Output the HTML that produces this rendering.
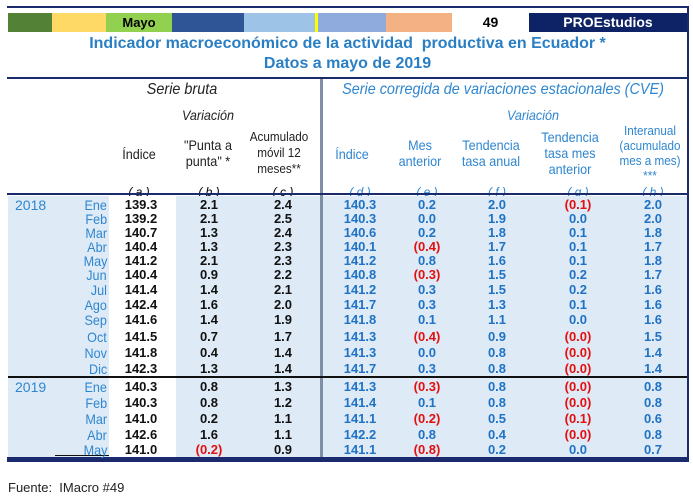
<!DOCTYPE html>
<html><head><meta charset="utf-8"><style>
body{margin:0;width:693px;height:502px;background:#fff;position:relative;overflow:hidden;font-family:"Liberation Sans",Arial,sans-serif}
.a{position:absolute}
.r{position:absolute;left:0;width:693px;height:14px;font-size:13px;line-height:14px;font-weight:bold}
.c{position:absolute;width:70px;margin-left:-35px;text-align:center}
.k{color:#111}.b{color:#1f72c4}.n{color:#e31010}
.m{position:absolute;right:586px;font-weight:normal;color:#2e86d0;font-size:14px;transform:scaleX(0.9);transform-origin:right}
.y{position:absolute;left:15px;font-weight:normal;color:#2e86d0;font-size:14px}
.h{position:absolute;text-align:center;font-size:14px;line-height:16px;color:#222;transform:translateX(-50%) scaleX(0.9);white-space:nowrap}
.hb{color:#2e86d0}
.l{position:absolute;font-style:italic;font-size:12px;transform:translateX(-50%)}
</style></head><body>
<div class="a" style="left:7px;top:6px;width:681px;height:2px;background:#1a2a6c"></div>
<div class="a" style="left:687px;top:6px;width:2px;height:456px;background:#1a2a6c"></div>
<div class="a" style="left:8px;top:13px;width:44px;height:19px;background:#538135"></div>
<div class="a" style="left:52px;top:13px;width:54px;height:19px;background:#ffd966"></div>
<div class="a" style="left:106px;top:13px;width:66px;height:19px;background:#92d050;font-weight:bold;font-size:13px;line-height:19px;text-align:center">Mayo</div>
<div class="a" style="left:172px;top:13px;width:72px;height:19px;background:#2f5597"></div>
<div class="a" style="left:244px;top:13px;width:71px;height:19px;background:#9dc3e6"></div>
<div class="a" style="left:315px;top:13px;width:3px;height:19px;background:#ffff00"></div>
<div class="a" style="left:318px;top:13px;width:68px;height:19px;background:#8faadc"></div>
<div class="a" style="left:386px;top:13px;width:66px;height:19px;background:#f4b183"></div>
<div class="a" style="left:452px;top:13px;width:77px;height:19px;font-weight:bold;font-size:14px;line-height:19px;text-align:center">49</div>
<div class="a" style="left:529px;top:13px;width:158px;height:19px;background:#0d2366;color:#fff;font-weight:bold;font-size:14px;line-height:19px;text-align:center">PROEstudios</div>
<div class="a" style="left:7px;width:681px;top:34px;text-align:center;color:#2a7fc4;font-weight:bold;font-size:16px;line-height:20px">Indicador macroeconómico de la actividad&nbsp; productiva en Ecuador *<br>Datos a mayo de 2019</div>
<div class="a" style="left:7px;top:77px;width:681px;height:2px;background:#1a2a6c"></div>
<div class="a" style="left:320px;top:79px;width:3px;height:382px;background:#7f8fa6"></div>
<div class="h" style="left:182px;top:82px;font-style:italic;font-size:16px">Serie bruta</div>
<div class="h hb" style="left:503px;top:82px;font-style:italic;font-size:16px">Serie corregida de variaciones estacionales (CVE)</div>
<div class="h" style="left:208px;top:107px;font-style:italic">Variación</div>
<div class="h hb" style="left:533px;top:107px;font-style:italic">Variación</div>
<div class="h" style="left:139px;top:146px">Índice</div>
<div class="h" style="left:208px;top:137px">"Punta a<br>punta" *</div>
<div class="h" style="left:279px;top:129px;font-size:13px">Acumulado<br>móvil 12<br>meses**</div>
<div class="h hb" style="left:352px;top:146px">Índice</div>
<div class="h hb" style="left:420px;top:137px">Mes<br>anterior</div>
<div class="h hb" style="left:491px;top:137px">Tendencia<br>tasa anual</div>
<div class="h hb" style="left:570px;top:129px">Tendencia<br>tasa mes<br>anterior</div>
<div class="h hb" style="left:650px;top:123px;font-size:13px;line-height:15px">Interanual<br>(acumulado<br>mes a mes)<br>***</div>
<div class="l" style="left:139px;top:185px">( a )</div><div class="l" style="left:209px;top:185px">( b )</div><div class="l" style="left:283px;top:185px">( c )</div>
<div class="l hb" style="left:360px;top:185px">( d )</div><div class="l hb" style="left:427px;top:185px">( e )</div><div class="l hb" style="left:497px;top:185px">( f )</div><div class="l hb" style="left:578px;top:185px">( g )</div><div class="l hb" style="left:653px;top:185px">( h )</div>
<div class="a" style="left:8px;top:196px;width:679px;height:261px;background:#deeaf6"></div>
<div class="a" style="left:109px;top:196px;width:67px;height:261px;background:#fff"></div>
<div class="a" style="left:7px;top:193px;width:681px;height:2px;background:#1a2a6c"></div>
<div class="a" style="left:320px;top:196px;width:3px;height:262px;background:#7f8fa6"></div>
<div class="a" style="left:8px;top:376px;width:679px;height:2px;background:#111"></div>
<div class="a" style="left:7px;top:457px;width:681px;height:5px;background:#1a2a6c"></div>
<div class="a" style="left:55px;top:455px;width:54px;height:1px;background:#111"></div>

<div class="r" style="top:198px"><span class="y">2018</span><span class="m">Ene</span><span class="c k" style="left:141px">139.3</span><span class="c k" style="left:209px">2.1</span><span class="c k" style="left:283px">2.4</span><span class="c b" style="left:360px">140.3</span><span class="c b" style="left:427px">0.2</span><span class="c b" style="left:497px">2.0</span><span class="c n" style="left:578px">(0.1)</span><span class="c b" style="left:653px">2.0</span></div>
<div class="r" style="top:212px"><span class="m">Feb</span><span class="c k" style="left:141px">139.2</span><span class="c k" style="left:209px">2.1</span><span class="c k" style="left:283px">2.5</span><span class="c b" style="left:360px">140.3</span><span class="c b" style="left:427px">0.0</span><span class="c b" style="left:497px">1.9</span><span class="c b" style="left:578px">0.0</span><span class="c b" style="left:653px">2.0</span></div>
<div class="r" style="top:226px"><span class="m">Mar</span><span class="c k" style="left:141px">140.7</span><span class="c k" style="left:209px">1.3</span><span class="c k" style="left:283px">2.4</span><span class="c b" style="left:360px">140.6</span><span class="c b" style="left:427px">0.2</span><span class="c b" style="left:497px">1.8</span><span class="c b" style="left:578px">0.1</span><span class="c b" style="left:653px">1.8</span></div>
<div class="r" style="top:240px"><span class="m">Abr</span><span class="c k" style="left:141px">140.4</span><span class="c k" style="left:209px">1.3</span><span class="c k" style="left:283px">2.3</span><span class="c b" style="left:360px">140.1</span><span class="c n" style="left:427px">(0.4)</span><span class="c b" style="left:497px">1.7</span><span class="c b" style="left:578px">0.1</span><span class="c b" style="left:653px">1.7</span></div>
<div class="r" style="top:254px"><span class="m">May</span><span class="c k" style="left:141px">141.2</span><span class="c k" style="left:209px">2.1</span><span class="c k" style="left:283px">2.3</span><span class="c b" style="left:360px">141.2</span><span class="c b" style="left:427px">0.8</span><span class="c b" style="left:497px">1.6</span><span class="c b" style="left:578px">0.1</span><span class="c b" style="left:653px">1.8</span></div>
<div class="r" style="top:268px"><span class="m">Jun</span><span class="c k" style="left:141px">140.4</span><span class="c k" style="left:209px">0.9</span><span class="c k" style="left:283px">2.2</span><span class="c b" style="left:360px">140.8</span><span class="c n" style="left:427px">(0.3)</span><span class="c b" style="left:497px">1.5</span><span class="c b" style="left:578px">0.2</span><span class="c b" style="left:653px">1.7</span></div>
<div class="r" style="top:283px"><span class="m">Jul</span><span class="c k" style="left:141px">141.4</span><span class="c k" style="left:209px">1.4</span><span class="c k" style="left:283px">2.1</span><span class="c b" style="left:360px">141.2</span><span class="c b" style="left:427px">0.3</span><span class="c b" style="left:497px">1.5</span><span class="c b" style="left:578px">0.2</span><span class="c b" style="left:653px">1.6</span></div>
<div class="r" style="top:298px"><span class="m">Ago</span><span class="c k" style="left:141px">142.4</span><span class="c k" style="left:209px">1.6</span><span class="c k" style="left:283px">2.0</span><span class="c b" style="left:360px">141.7</span><span class="c b" style="left:427px">0.3</span><span class="c b" style="left:497px">1.3</span><span class="c b" style="left:578px">0.1</span><span class="c b" style="left:653px">1.6</span></div>
<div class="r" style="top:313px"><span class="m">Sep</span><span class="c k" style="left:141px">141.6</span><span class="c k" style="left:209px">1.4</span><span class="c k" style="left:283px">1.9</span><span class="c b" style="left:360px">141.8</span><span class="c b" style="left:427px">0.1</span><span class="c b" style="left:497px">1.1</span><span class="c b" style="left:578px">0.0</span><span class="c b" style="left:653px">1.6</span></div>
<div class="r" style="top:330px"><span class="m">Oct</span><span class="c k" style="left:141px">141.5</span><span class="c k" style="left:209px">0.7</span><span class="c k" style="left:283px">1.7</span><span class="c b" style="left:360px">141.3</span><span class="c n" style="left:427px">(0.4)</span><span class="c b" style="left:497px">0.9</span><span class="c n" style="left:578px">(0.0)</span><span class="c b" style="left:653px">1.5</span></div>
<div class="r" style="top:346px"><span class="m">Nov</span><span class="c k" style="left:141px">141.8</span><span class="c k" style="left:209px">0.4</span><span class="c k" style="left:283px">1.4</span><span class="c b" style="left:360px">141.3</span><span class="c b" style="left:427px">0.0</span><span class="c b" style="left:497px">0.8</span><span class="c n" style="left:578px">(0.0)</span><span class="c b" style="left:653px">1.4</span></div>
<div class="r" style="top:362px"><span class="m">Dic</span><span class="c k" style="left:141px">142.3</span><span class="c k" style="left:209px">1.3</span><span class="c k" style="left:283px">1.4</span><span class="c b" style="left:360px">141.7</span><span class="c b" style="left:427px">0.3</span><span class="c b" style="left:497px">0.8</span><span class="c n" style="left:578px">(0.0)</span><span class="c b" style="left:653px">1.4</span></div>
<div class="r" style="top:380px"><span class="y">2019</span><span class="m">Ene</span><span class="c k" style="left:141px">140.3</span><span class="c k" style="left:209px">0.8</span><span class="c k" style="left:283px">1.3</span><span class="c b" style="left:360px">141.3</span><span class="c n" style="left:427px">(0.3)</span><span class="c b" style="left:497px">0.8</span><span class="c n" style="left:578px">(0.0)</span><span class="c b" style="left:653px">0.8</span></div>
<div class="r" style="top:396px"><span class="m">Feb</span><span class="c k" style="left:141px">140.3</span><span class="c k" style="left:209px">0.8</span><span class="c k" style="left:283px">1.2</span><span class="c b" style="left:360px">141.4</span><span class="c b" style="left:427px">0.1</span><span class="c b" style="left:497px">0.8</span><span class="c n" style="left:578px">(0.0)</span><span class="c b" style="left:653px">0.8</span></div>
<div class="r" style="top:412px"><span class="m">Mar</span><span class="c k" style="left:141px">141.0</span><span class="c k" style="left:209px">0.2</span><span class="c k" style="left:283px">1.1</span><span class="c b" style="left:360px">141.1</span><span class="c n" style="left:427px">(0.2)</span><span class="c b" style="left:497px">0.5</span><span class="c n" style="left:578px">(0.1)</span><span class="c b" style="left:653px">0.6</span></div>
<div class="r" style="top:428px"><span class="m">Abr</span><span class="c k" style="left:141px">142.6</span><span class="c k" style="left:209px">1.6</span><span class="c k" style="left:283px">1.1</span><span class="c b" style="left:360px">142.2</span><span class="c b" style="left:427px">0.8</span><span class="c b" style="left:497px">0.4</span><span class="c n" style="left:578px">(0.0)</span><span class="c b" style="left:653px">0.8</span></div>
<div class="r" style="top:443px"><span class="m">May</span><span class="c k" style="left:141px">141.0</span><span class="c n" style="left:209px">(0.2)</span><span class="c k" style="left:283px">0.9</span><span class="c b" style="left:360px">141.1</span><span class="c n" style="left:427px">(0.8)</span><span class="c b" style="left:497px">0.2</span><span class="c b" style="left:578px">0.0</span><span class="c b" style="left:653px">0.7</span></div>
<div class="a" style="left:8px;top:480px;font-size:13px;color:#222">Fuente:&nbsp; IMacro #49</div>
</body></html>
